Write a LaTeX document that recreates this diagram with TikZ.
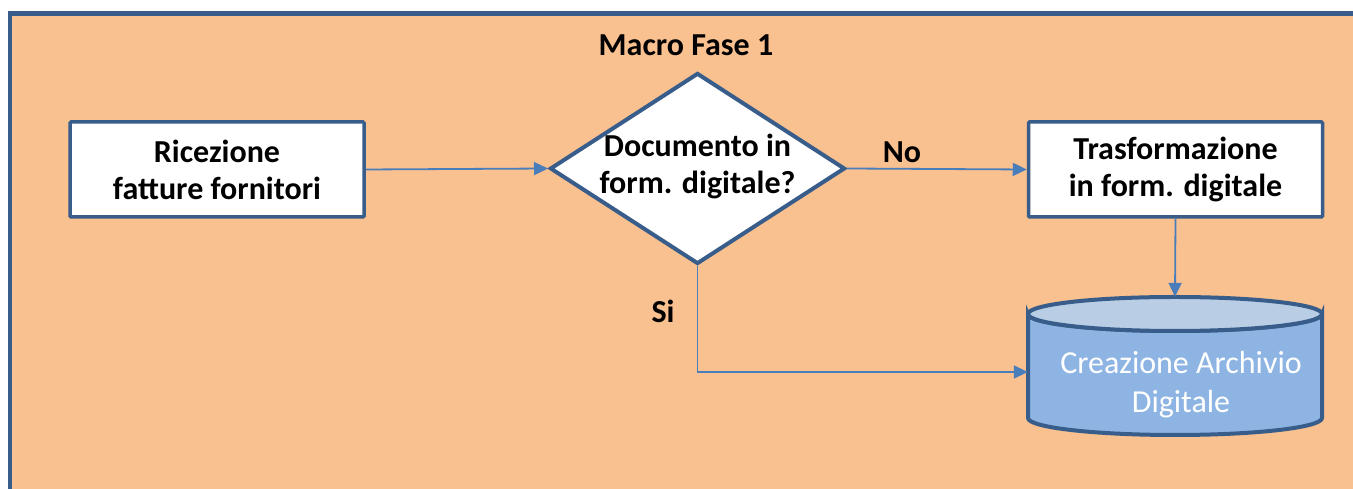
\documentclass[tikz,border=0pt]{standalone}
\usepackage{fontspec}
\setmainfont{Carlito}
\usetikzlibrary{shapes.geometric,arrows.meta}
\definecolor{bgor}{RGB}{249,192,144}
\definecolor{bord}{RGB}{56,93,138}
\definecolor{conn}{RGB}{74,126,187}
\definecolor{cylbody}{RGB}{142,180,227}
\definecolor{cyltop}{RGB}{185,205,229}
\tikzset{
  procbox/.style={draw=bord, line width=3.5pt, fill=white, rounded corners=1pt,
    minimum width=294pt, minimum height=95pt, inner sep=0pt},
  bigtxt/.style={font=\fontsize{32}{37}\selectfont\bfseries, align=center, text=black, inner sep=0pt},
  lbl/.style={font=\fontsize{32}{37}\selectfont\bfseries, text=black, inner sep=0pt},
  conline/.style={draw=conn, line width=1.8pt, -{Triangle[length=14pt,width=13pt]}},
}
\begin{document}
\begin{tikzpicture}[x=1pt,y=1pt]
\useasboundingbox (0,0) rectangle (1353,489);
\fill[white] (0,0) rectangle (1353,489);
\begin{scope}
\clip (0,0) rectangle (1353,489);
\draw[draw=bord, fill=bgor, line width=4.5pt] (10,475.5) rectangle (1370,-20);
\end{scope}
% nodes
\node[procbox] (ric) at (217,319.5) {};
\node[bigtxt] at (ric.center) {Ricezione\\fatture fornitori};
\node[draw=bord, line width=4pt, fill=white, shape=diamond, minimum width=295pt,
  minimum height=191pt, inner sep=0pt] (dia) at (697.5,320.5) {};
\node[bigtxt] at ([yshift=2pt]dia.center) {Documento in\\form. digitale?};
\node[procbox] (tra) at (1175.5,319.5) {};
\node[bigtxt] at (tra.center) {Trasformazione\\in form. digitale};
% cylinder
\node[minimum width=294pt, minimum height=138pt, inner sep=0pt] (arch) at (1175,123) {};
\filldraw[draw=bord, fill=cylbody, line width=4pt]
  (1028,175) -- (1028,71) arc[start angle=180, end angle=360, x radius=147pt, y radius=17pt]
  -- (1322,175) arc[start angle=0, end angle=-180, x radius=147pt, y radius=17pt] -- cycle;
\filldraw[draw=bord, fill=cyltop, line width=4pt] (1175,175) ellipse [x radius=147pt, y radius=17pt];
\node[font=\fontsize{32}{39}\selectfont, text=white, align=center, inner sep=0pt] at (1181,104) {Creazione Archivio\\Digitale};
% labels
\node[lbl] (mf) at (686,444) {Macro Fase 1};
\node[lbl] (no) at (902,337) {No};
\node[lbl] (si) at (663,178) {Si};
% connectors
\draw[conline] (ric.east) -- (dia.west);
\draw[conline] (dia.east) -- (tra.west);
\draw[conline] (tra.south) -- (arch.north);
\draw[conline] (dia.south) |- ([yshift=-6pt]arch.west);
\end{tikzpicture}
\end{document}
